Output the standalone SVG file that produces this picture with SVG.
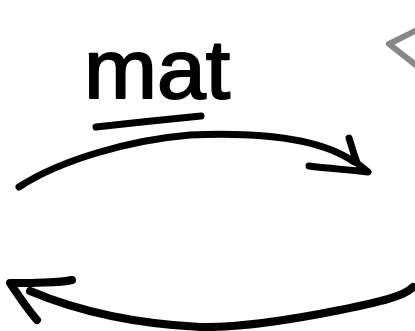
<svg xmlns="http://www.w3.org/2000/svg" width="415" height="331" viewBox="0 0 415 331">
<style>
.ink{fill:none;stroke:#000;stroke-linecap:round;stroke-linejoin:round}
.gray{fill:none;stroke:#888;stroke-width:6;stroke-linecap:round;stroke-linejoin:round}
.label{font-family:"Liberation Sans",Arial,sans-serif;font-size:84px;fill:#000;stroke:#000;stroke-width:2;stroke-linejoin:round}
</style>
<rect width="415" height="331" fill="#fff"/>
<g id="label-mat">
<text class="label" x="84" y="98" textLength="146" lengthAdjust="spacingAndGlyphs">mat</text>
<path class="ink" stroke-width="7" d="M96,127 Q150,121 201,116"/>
</g>
<g id="gray-shape">
<path class="gray" d="M417,30 L389,44 L417,66"/>
</g>
<g id="connectors">
<path class="ink" stroke-width="7" d="M19,187 C60,160 130,140 190,135 C260,132 320,138 354,162"/>
<path class="ink" stroke-width="7" d="M349,138 C353,150 355,160 358,164 L368,172 C350,170 325,168 309,166"/>
<path class="ink" stroke-width="8" d="M413,287 C405,296 380,302 340,310 C290,320 240,328 200,327 C140,324 80,312 30,291"/>
<path class="ink" stroke-width="8" d="M72,280 C60,283 45,282 30,283 L10,283 C18,295 28,310 37,320"/>
</g>
</svg>
